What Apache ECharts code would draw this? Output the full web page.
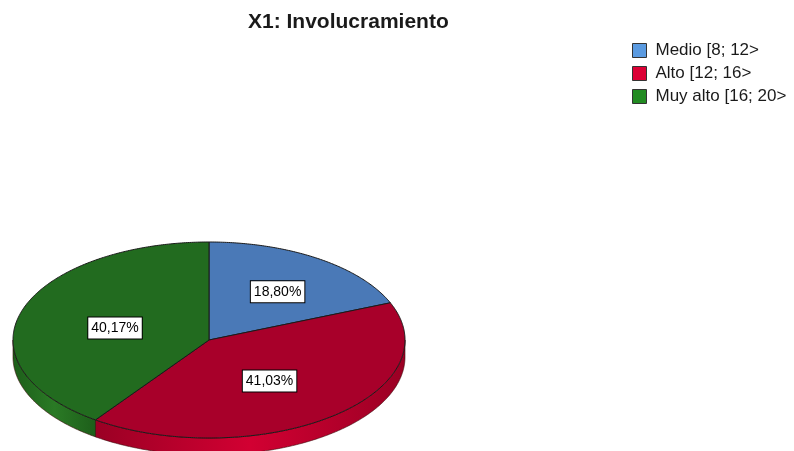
<!DOCTYPE html>
<html lang="es">
<head>
<meta charset="UTF-8">
<title>X1: Involucramiento</title>
<script src="https://cdn.jsdelivr.net/npm/echarts@6/dist/echarts.min.js"></script>
<style>
html, body { margin: 0; padding: 0; background: #fff; }
#main { width: 794px; height: 451px; }
</style>
</head>
<body>
<div id="main"></div>
<script>
// datos
var categories = ['Medio [8; 12>', 'Alto [12; 16>', 'Muy alto [16; 20>'];
var percents = [18.80, 41.03, 40.17];
var labels = ['18,80%', '41,03%', '40,17%'];

var topColors = ['#4a79b7', '#a8002a', '#226b1f'];
var sideColors = [['#3c6aa4', '#4a79b7'], ['#9a0024', '#d20032'], ['#1d5e1a', '#2a7a25']];
var legendColors = ['#5a9ae0', '#dc0035', '#228b22'];

// geometría de la elipse
var cx = 209, cy = 340, rx = 196, ry = 98, depth = 17;

var total = percents.reduce(function (a, b) { return a + b; }, 0);
var cum = [0];
percents.forEach(function (v, i) { cum.push(cum[i] + v); });

function pt(theta, dy) {
    return [cx + rx * Math.sin(theta), cy - ry * Math.cos(theta) + (dy || 0)];
}

function arcPoints(a, b, dy) {
    var pts = [];
    var n = Math.max(2, Math.ceil((b - a) / 0.01));
    for (var k = 0; k <= n; k++) {
        pts.push(pt(a + (b - a) * k / n, dy));
    }
    return pts;
}

function renderSlice(params, api) {
    var i = params.seriesIndex;
    var a = api.value(0) / total * Math.PI * 2;
    var b = api.value(1) / total * Math.PI * 2;
    var children = [];

    // cara lateral (sólo la parte frontal)
    var sa = Math.max(a, Math.PI / 2), sb = Math.min(b, Math.PI * 3 / 2);
    if (sb > sa) {
        var up = arcPoints(sa, sb, 0);
        var down = arcPoints(sa, sb, depth).reverse();
        children.push({
            type: 'polygon',
            shape: { points: up.concat(down) },
            style: {
                fill: new echarts.graphic.LinearGradient(0, 0, 1, 0, [
                    { offset: 0, color: sideColors[i][0] },
                    { offset: 0.5, color: sideColors[i][1] },
                    { offset: 1, color: sideColors[i][0] }
                ]),
                stroke: '#3a0a0a',
                lineWidth: 0.6
            }
        });
    }

    // cara superior
    var topPts = [[cx, cy]].concat(arcPoints(a, b, 0));
    children.push({
        type: 'polygon',
        shape: { points: topPts },
        style: { fill: topColors[i], stroke: '#1a1a1a', lineWidth: 1 }
    });

    // etiqueta en el centroide del sector
    var mid = (a + b) / 2, half = (b - a) / 2;
    var f = 4 * Math.sin(half) / (6 * half);
    var lp = [cx + rx * f * Math.sin(mid), cy - ry * f * Math.cos(mid) + 3];
    children.push({
        type: 'text',
        x: lp[0],
        y: lp[1],
        z2: 10,
        style: {
            text: labels[i],
            align: 'center',
            verticalAlign: 'middle',
            fontFamily: 'Liberation Sans, Arial, sans-serif',
            fontSize: 14,
            fill: '#000',
            backgroundColor: '#fff',
            borderColor: '#000',
            borderWidth: 1,
            padding: [4, 3, 3, 3]
        }
    });

    return { type: 'group', children: children };
}

var series = categories.map(function (name, i) {
    return {
        name: name,
        type: 'custom',
        coordinateSystem: 'none',
        itemStyle: { color: legendColors[i] },
        renderItem: renderSlice,
        data: [[cum[i], cum[i + 1]]],
        silent: true
    };
});

var chart = echarts.init(document.getElementById('main'));
chart.setOption({
    animation: false,
    backgroundColor: '#fff',
    title: {
        text: 'X1: Involucramiento',
        left: 243,
        top: 7,
        textStyle: {
            fontFamily: 'Liberation Sans, Arial, sans-serif',
            fontSize: 21,
            fontWeight: 'bold',
            color: '#1a1a1a'
        }
    },
    legend: {
        orient: 'vertical',
        left: 627,
        top: 37,
        itemWidth: 14,
        itemHeight: 14,
        itemGap: 6,
        icon: 'rect',
        data: categories,
        itemStyle: { borderColor: '#333', borderWidth: 1 },
        textStyle: {
            fontFamily: 'Liberation Sans, Arial, sans-serif',
            fontSize: 17,
            color: '#1a1a1a',
            padding: [0, 0, 0, 4]
        }
    },
    series: series
});
</script>
</body>
</html>
